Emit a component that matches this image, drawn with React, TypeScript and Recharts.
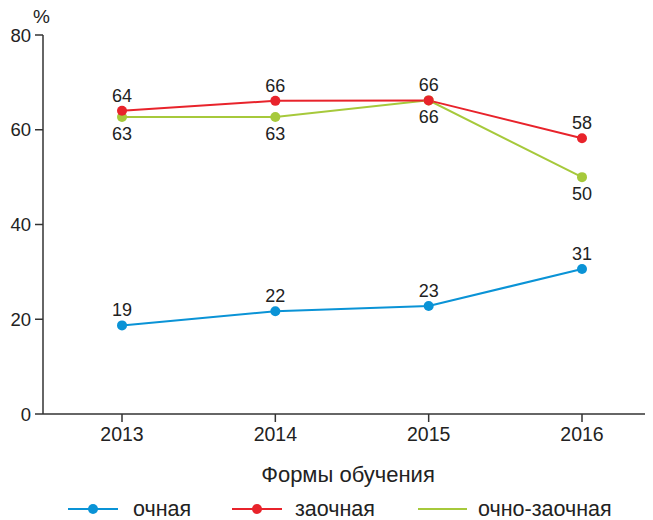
import React from 'react';
import { LineChart, Line, XAxis, YAxis, LabelList, Legend } from 'recharts';

const years = ['2013', '2014', '2015', '2016'];
const ochnaya = [18.7, 21.7, 22.8, 30.6];
const zaochnaya = [64.0, 66.1, 66.2, 58.2];
const ochnoZaochnaya = [62.7, 62.7, 66.2, 50.0];
const yTicks = [0, 20, 40, 60, 80];

const BLUE = '#0a93d6';
const RED = '#e8232b';
const GREEN = '#a6c93b';
const AXIS = '#333333';
const FONT = '"Liberation Sans", Arial, sans-serif';

const data = years.map((y, i) => ({
  year: y,
  ochnaya: ochnaya[i],
  zaochnaya: zaochnaya[i],
  ochnoZaochnaya: ochnoZaochnaya[i],
}));

const fmt = (v: any) => String(Math.round(Number(v)));

const legendItems = [
  { name: 'очная', color: BLUE, dot: true },
  { name: 'заочная', color: RED, dot: true },
  { name: 'очно-заочная', color: GREEN, dot: false },
];

const LegendContent = () => (
  <svg width={653} height={36} style={{ display: 'block', overflow: 'visible' }}>
    {legendItems.map((it, i) => {
      const x0 = [68, 232, 418][i];
      const lineLen = [50, 50, 49][i];
      const tx = [133, 295, 478][i];
      return (
        <g key={it.name}>
          <line x1={x0} x2={x0 + lineLen} y1={25} y2={25} stroke={it.color} strokeWidth={2} />
          {it.dot && <circle cx={x0 + lineLen / 2} cy={25} r={5} fill={it.color} />}
          <text x={tx} y={32} fontSize={21.5} fontFamily={FONT} fill="#222">
            {it.name}
          </text>
        </g>
      );
    })}
  </svg>
);

export default function App() {
  return (
    <div style={{ position: 'absolute', left: 0, top: 0, width: 653, height: 520, background: '#fff' }}>
      <LineChart
        width={653}
        height={520}
        data={data}
        margin={{ top: 35, right: 8, bottom: 0, left: 0 }}
      >
        <XAxis
          dataKey="year"
          padding={{ left: 79, right: 63 }}
          height={70}
          tickSize={8}
          tickMargin={5}
          stroke={AXIS}
          strokeWidth={1.5}
          tick={{ fill: '#222', fontSize: 19.5, fontFamily: FONT }}
          label={{ value: 'Формы обучения', position: 'insideBottom', offset: 2, fill: '#222', fontSize: 22, fontFamily: FONT, dx: 4 }}
        />
        <YAxis
          domain={[0, 80]}
          ticks={yTicks}
          width={43}
          tickSize={8}
          tickMargin={4}
          stroke={AXIS}
          strokeWidth={1.5}
          tick={{ fill: '#222', fontSize: 18.5, fontFamily: FONT }}
          label={{ value: '%', position: 'top', offset: 12, dx: 20, fill: '#222', fontSize: 19, fontFamily: FONT }}
        />
        <Legend verticalAlign="bottom" height={36} content={<LegendContent />} wrapperStyle={{ left: 0, width: 653 }} />
        <Line
          dataKey="ochnaya"
          name="очная"
          stroke={BLUE}
          strokeWidth={2}
          dot={{ r: 5, fill: BLUE, stroke: BLUE, strokeWidth: 0 }}
          isAnimationActive={false}
        >
          <LabelList dataKey="ochnaya" position="top" offset={9} formatter={fmt} fill="#222" fontSize={18} fontFamily={FONT} />
        </Line>
        <Line
          dataKey="ochnoZaochnaya"
          name="очно-заочная"
          stroke={GREEN}
          strokeWidth={2}
          dot={{ r: 5, fill: GREEN, stroke: GREEN, strokeWidth: 0 }}
          isAnimationActive={false}
        >
          <LabelList dataKey="ochnoZaochnaya" position="bottom" offset={10} formatter={fmt} fill="#222" fontSize={18} fontFamily={FONT} />
        </Line>
        <Line
          dataKey="zaochnaya"
          name="заочная"
          stroke={RED}
          strokeWidth={2}
          dot={{ r: 5, fill: RED, stroke: RED, strokeWidth: 0 }}
          isAnimationActive={false}
        >
          <LabelList dataKey="zaochnaya" position="top" offset={9} formatter={fmt} fill="#222" fontSize={18} fontFamily={FONT} />
        </Line>
      </LineChart>
    </div>
  );
}
